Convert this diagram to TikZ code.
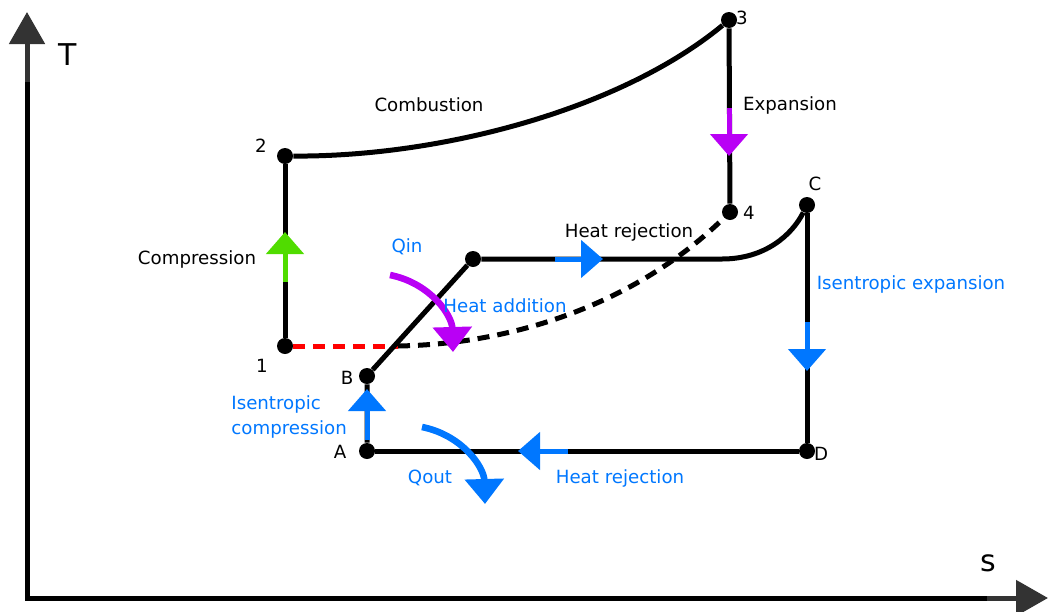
\documentclass[tikz,border=0pt]{standalone}
\usepackage{fontspec}
\setmainfont{DejaVu Sans}
\usetikzlibrary{arrows.meta}

\definecolor{flowblue}{RGB}{0,119,255}
\definecolor{flowpurple}{RGB}{185,0,245}
\definecolor{flowgreen}{RGB}{80,220,0}
\definecolor{axisgray}{RGB}{51,51,51}

\begin{document}
\begin{tikzpicture}[x=0.5pt,y=-0.5pt]
    \def\fs{\fontsize{9.1}{12.5}\selectfont}

    \tikzstyle{pt}=[circle,fill=black,inner sep=0pt,minimum size=8pt]
    \tikzstyle{lbl}=[font=\fs,inner sep=0pt]
    \tikzstyle{bluelbl}=[font=\fs,inner sep=0pt,text=flowblue]
    \tikzstyle{axlbl}=[font=\fontsize{15}{18}\selectfont,inner sep=0pt]

    \useasboundingbox (0,0) rectangle (1049,611);

    % axes
    \coordinate (o) at (27,598);
    \coordinate (yg) at (27,82);
    \coordinate (ytip) at (27,12);
    \coordinate (xg) at (987,598);
    \coordinate (xtip) at (1048,598);
    \tikzstyle{axis}=[line width=2.5pt,line join=miter]
    \tikzstyle{axishead}=[axisgray,line width=2.5pt,-{Triangle[width=17.5pt,length=16pt]}]
    \draw [axis] (yg) -- (o) -- (xg);
    \draw [axishead] (yg) -- (ytip);
    \draw [axishead] (xg) -- (xtip);
    \node[axlbl] (T) at (68,55) {T};
    \node[axlbl] (s) at (988,563) {s};

    % state points
    \node[pt] (p1) at (285,346) {};
    \node[pt] (p2) at (285,156) {};
    \node[pt] (p3) at (729,20) {};
    \node[pt] (p4) at (730,212) {};
    \node[pt] (pA) at (367,451) {};
    \node[pt] (pB) at (367,376) {};
    \node[pt] (pK) at (473,259) {};
    \node[pt] (pC) at (807,205) {};
    \node[pt] (pD) at (807,451) {};

    \node[lbl] (l1) at (262,366) {1};
    \node[lbl] (l2) at (261,146) {2};
    \node[lbl] (l3) at (742,18) {3};
    \node[lbl] (l4) at (749,213) {4};
    \node[lbl] (lA) at (340,452) {A};
    \node[lbl] (lB) at (347,378) {B};
    \node[lbl] (lC) at (815,184) {C};
    \node[lbl] (lD) at (821,454) {D};

    % cycle lines
    \tikzstyle{cyc}=[line width=2.5pt,line join=round]
    \tikzstyle{reddash}=[red,line width=2.5pt,dash pattern=on 6pt off 4pt]
    \tikzstyle{blackdash}=[line width=2.5pt,dash pattern=on 6pt off 4pt]

    \coordinate (k2) at (722,259);
    \coordinate (m) at (398,346);

    \draw [cyc] (p1) -- (p2);
    \draw [cyc] (p2) .. controls (440,157) and (620,110) .. (p3);
    \draw [cyc] (p3) -- (p4);
    \draw [reddash] (p1) -- (m);
    \draw [blackdash] (m) .. controls (520,344) and (640,300) .. (p4);
    \draw [cyc] (pA) -- (pB) -- (pK) -- (k2) .. controls (765,259) and (792,235) .. (pC);
    \draw [cyc] (pC) -- (pD) -- (pA);

    % direction arrows
    \tikzstyle{flow}=[line width=2.5pt,-{Triangle[width=18.5pt,length=11pt]}]
    \tikzstyle{heat}=[line width=3.3pt,-{Triangle[width=19pt,length=12.5pt]}]

    \coordinate (g1) at (285,282);
    \coordinate (g2) at (285,232);
    \coordinate (e1) at (729,108);
    \coordinate (e2) at (729,156);
    \coordinate (r1) at (555,259);
    \coordinate (r2) at (603,259);
    \coordinate (x1) at (807,322);
    \coordinate (x2) at (807,371);
    \coordinate (d1) at (568,451);
    \coordinate (d2) at (518,451);
    \coordinate (c1) at (367,440);
    \coordinate (c2) at (367,389);

    \draw [flow,flowgreen] (g1) -- (g2);
    \draw [flow,flowpurple] (e1) -- (e2);
    \draw [flow,flowblue] (r1) -- (r2);
    \draw [flow,flowblue] (x1) -- (x2);
    \draw [flow,flowblue] (d1) -- (d2);
    \draw [flow,flowblue] (c1) -- (c2);

    \coordinate (qi1) at (390,275);
    \coordinate (qi2) at (453,352);
    \coordinate (qo1) at (422,427);
    \coordinate (qo2) at (485,504);
    \draw [heat,flowpurple] (qi1) .. controls (430,283) and (452,315) .. (qi2);
    \draw [heat,flowblue] (qo1) .. controls (462,435) and (484,467) .. (qo2);

    % process labels
    \node[lbl] (comb) at (429,105) {Combustion};
    \node[lbl] (expa) at (790,105) {Expansion};
    \node[lbl] (comp) at (197,259) {Compression};
    \node[lbl] (rejup) at (629,232) {Heat rejection};
    \node[bluelbl] (qin) at (407,247) {Qin};
    \node[bluelbl] (hadd) at (505,306) {Heat addition};
    \node[bluelbl] (isexp) at (911,284) {Isentropic expansion};
    \node[bluelbl,align=left,anchor=west] (iscomp) at (231,417) {Isentropic\\compression};
    \node[bluelbl] (qout) at (430,478) {Qout};
    \node[bluelbl] (rejlo) at (620,478) {Heat rejection};

\end{tikzpicture}
\end{document}
